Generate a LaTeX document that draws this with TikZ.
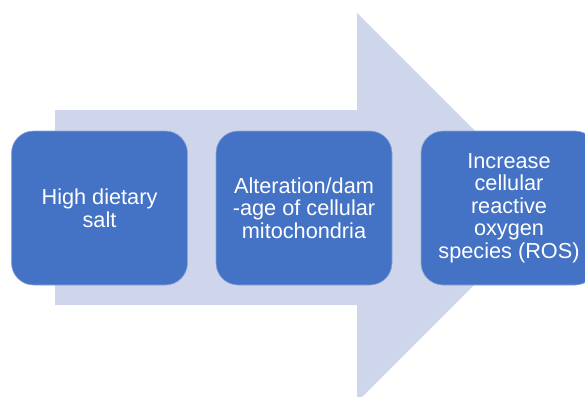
\documentclass[tikz,border=0pt]{standalone}
\usepackage{fontspec}
\setmainfont{Liberation Sans}
\definecolor{arrowc}{HTML}{CFD5EA}
\definecolor{boxc}{HTML}{4472C4}
\definecolor{boxline}{HTML}{8FA8DC}
\begin{document}
\begin{tikzpicture}[x=1pt,y=-1pt,
  stagebox/.style={fill=boxc, draw=boxline, line width=0.6pt, rounded corners=22pt,
    minimum width=176pt, minimum height=154pt, inner sep=0pt, align=center,
    text=white, font=\fontsize{21.7}{22.5}\selectfont}]
\useasboundingbox (0,0) rectangle (585,396);
\clip (0,0) rectangle (585,396);
\fill[arrowc] (55,110) -- (357,110) -- (357,13) -- (551.5,207.5) -- (357,402) -- (357,305) -- (55,305) -- cycle;
\node[stagebox] (salt) at (99.5,208) {High dietary\\salt};
\node[stagebox] (mito) at (304,208) {Alteration/dam\\-age of cellular\\mitochondria};
\node[stagebox] (ros) at (509,208) {Increase\\cellular\\reactive\\oxygen\\species (ROS)};
\end{tikzpicture}
\end{document}
